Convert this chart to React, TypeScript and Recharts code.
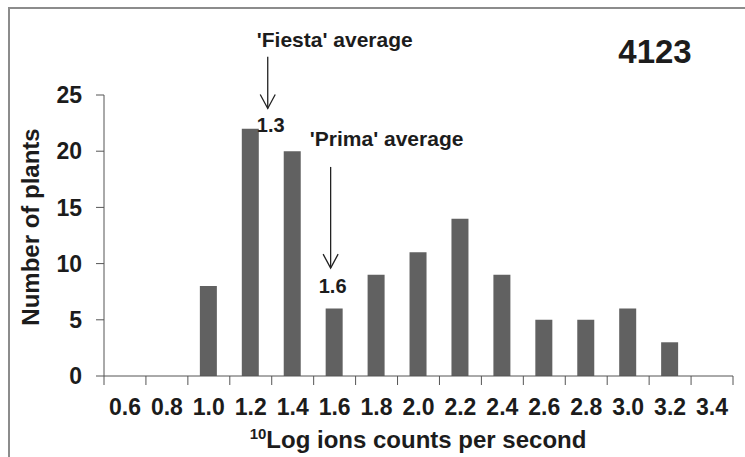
import React from 'react';
import { BarChart, Bar, XAxis, YAxis, ReferenceLine, Customized } from 'recharts';

// Histogram bins (log10 ion counts per second) and number of plants per bin
const bins = [0.6, 0.8, 1.0, 1.2, 1.4, 1.6, 1.8, 2.0, 2.2, 2.4, 2.6, 2.8, 3.0, 3.2, 3.4];
const plantCounts = [0, 0, 8, 22, 20, 6, 9, 11, 14, 9, 5, 5, 6, 3, 0];
const countTicks = [0, 5, 10, 15, 20, 25];
const binDomain: [number, number] = [0.5, 3.5];

// Cultivar averages marked with arrows
const fiestaAverage = 1.3;
const primaAverage = 1.6;
const sampleId = '4123';

const data = bins.map((b, i) => ({ bin: b, label: b.toFixed(1), count: plantCounts[i] }));

const FONT = '"Liberation Sans", Arial, Helvetica, sans-serif';
const TEXT = '#1c1c1c';
const AXIS = '#555555';
const BAR = '#616161';
const X_TICK_SIZE = 9;
const X_TICK_MARGIN = 14;

// Category labels centred in each bin, tick marks on the bin edges
const BinTick = (props: any) => {
  const { x, y, payload, index } = props;
  const half = typeof payload?.offset === 'number' && payload.offset > 0 ? payload.offset : 21;
  const axisY = y - X_TICK_SIZE - X_TICK_MARGIN;
  const isLast = index === bins.length - 1;
  return (
    <g>
      <line x1={x - half} x2={x - half} y1={axisY} y2={axisY + X_TICK_SIZE} stroke={AXIS} strokeWidth={1} />
      {isLast && (
        <line x1={x + half} x2={x + half} y1={axisY} y2={axisY + X_TICK_SIZE} stroke={AXIS} strokeWidth={1} />
      )}
      <text
        x={x}
        y={y}
        dy="0.71em"
        textAnchor="middle"
        fontFamily={FONT}
        fontWeight="bold"
        fontSize={23}
        fill={TEXT}
      >
        {payload.value}
      </text>
    </g>
  );
};

// Arrow pointing down at an average, with its caption above and its value below
const averageArrow =
  (caption: string, value: number, captionDx: number, captionDy: number, valueDx: number, valueDy: number) =>
  (p: any) => {
    const x = p.x1 - 4;
    const top = Math.min(p.y1, p.y2);
    const bottom = Math.max(p.y1, p.y2);
    return (
      <g>
        <line x1={x} x2={x} y1={top} y2={bottom} stroke="#222" strokeWidth={1.3} />
        <polyline
          points={`${x - 7.5},${bottom - 14} ${x},${bottom} ${x + 7.5},${bottom - 14}`}
          fill="none"
          stroke="#222"
          strokeWidth={1.3}
        />
        <text
          x={x + captionDx}
          y={top + captionDy}
          textAnchor="middle"
          fontFamily={FONT}
          fontWeight="bold"
          fontSize={21}
          fill={TEXT}
        >
          {caption}
        </text>
        <text
          x={x + valueDx}
          y={bottom + valueDy}
          textAnchor="middle"
          fontFamily={FONT}
          fontWeight="bold"
          fontSize={20}
          fill={TEXT}
        >
          {value.toFixed(1)}
        </text>
      </g>
    );
  };

const Titles = () => (
  <g fontFamily={FONT} fontWeight="bold" fill={TEXT}>
    <text x={39} y={227} textAnchor="middle" fontSize={24} transform="rotate(-90, 39, 227)">
      Number of plants
    </text>
    <text x={418} y={448} textAnchor="middle" fontSize={24}>
      <tspan fontSize={15} dy={-9}>10</tspan>
      <tspan dy={9}>Log ions counts per second</tspan>
    </text>
    <text x={655} y={63} textAnchor="middle" fontSize={33}>
      {sampleId}
    </text>
  </g>
);

export default function App() {
  return (
    <div style={{ position: 'absolute', left: 0, top: 0, width: 745, height: 457, background: '#fff' }}>
      <div
        style={{
          position: 'absolute',
          left: 8,
          top: 7,
          width: 737,
          height: 450,
          boxSizing: 'border-box',
          borderLeft: '2px solid #8c8c8c',
          borderTop: '2px solid #8c8c8c',
        }}
      />
      <div style={{ position: 'absolute', left: 0, top: 0 }}>
        <BarChart
          width={745}
          height={457}
          data={data}
          margin={{ top: 95, right: 12, bottom: 51, left: 0 }}
          barCategoryGap="10%"
        >
          <XAxis
            dataKey="label"
            type="category"
            height={30}
            axisLine={{ stroke: AXIS, strokeWidth: 1 }}
            tickLine={false}
            tickSize={X_TICK_SIZE}
            tickMargin={X_TICK_MARGIN}
            tick={<BinTick />}
            interval={0}
          />
          <XAxis xAxisId="num" dataKey="bin" type="number" domain={binDomain} hide allowDataOverflow />
          <YAxis
            width={104}
            domain={[0, 25]}
            ticks={countTicks}
            interval={0}
            axisLine={{ stroke: AXIS, strokeWidth: 1 }}
            tickLine={{ stroke: AXIS, strokeWidth: 1 }}
            tickSize={8}
            tickMargin={14}
            tick={{ fontFamily: FONT, fontWeight: 'bold', fontSize: 23, fill: TEXT }}
          />
          <Bar dataKey="count" fill={BAR} barSize={17} isAnimationActive={false} />
          <ReferenceLine
            xAxisId="num"
            ifOverflow="visible"
            segment={[
              { x: fiestaAverage, y: 28.4 },
              { x: fiestaAverage, y: 23.8 },
            ]}
            shape={averageArrow("'Fiesta' average", fiestaAverage, 67, -10, 3, 24)}
          />
          <ReferenceLine
            xAxisId="num"
            ifOverflow="visible"
            segment={[
              { x: primaAverage, y: 18.6 },
              { x: primaAverage, y: 9.6 },
            ]}
            shape={averageArrow("'Prima' average", primaAverage, 56, -21, 2, 25)}
          />
          <Customized component={Titles} />
        </BarChart>
      </div>
    </div>
  );
}
